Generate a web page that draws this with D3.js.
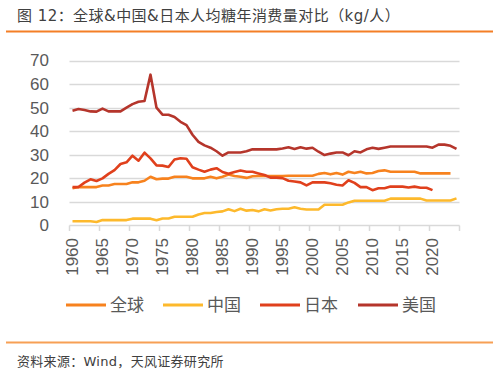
<!DOCTYPE html>
<html>
<head>
<meta charset="utf-8">
<script src="https://cdn.jsdelivr.net/npm/d3@7"></script>
<style>
  body { margin: 0; background: #fff; }
  svg { display: block; font-family: "Liberation Sans", Arial, "Noto Sans CJK SC", sans-serif; }
  .cjk { font-family: "DejaVu Sans", "Noto Sans CJK SC", sans-serif; }
  .legend-text { font-family: "Noto Sans CJK SC", sans-serif; }
</style>
</head>
<body>
<svg id="chart" width="499" height="372"></svg>
<script>
const years = d3.range(1960, 2025);
const yTicks = [0, 10, 20, 30, 40, 50, 60, 70];

// kg per person
const global = [15.8,16.3,16.3,16.3,16.3,17,17,17.6,17.6,17.6,
  18.3,18.3,19,20.7,19.6,19.9,19.9,20.7,20.7,20.7,
  20,20,20,20.7,20,20.7,21.6,21,20.7,20.2,
  20.9,21,21,21,21,21,21.1,21.1,21.1,21.1,
  21.1,21.9,22.3,21.7,22.3,21.6,22.8,22.3,22.8,22.1,
  22.3,23.1,23.4,22.8,22.8,22.8,22.8,22.8,22.1,22.1,
  22.1,22.1,22.1,22.1];
const china = [1.8,1.8,1.8,1.8,1.5,2.3,2.3,2.3,2.3,2.3,
  2.9,2.9,2.9,2.9,2.2,3,3,3.7,3.7,3.7,
  3.7,4.7,5.3,5.3,5.7,6,6.9,6.1,7.1,6.3,
  6.6,6,6.9,6.4,6.9,7.1,7.1,7.7,7.1,6.8,
  6.8,6.8,8.8,8.8,8.8,8.8,9.8,10.5,10.5,10.5,
  10.5,10.5,10.5,11.4,11.4,11.4,11.4,11.4,11.4,10.6,
  10.6,10.6,10.6,10.6,11.5];
const japan = [16.3,16.3,18.2,19.6,18.9,20,21.9,23.5,26.1,26.8,
  29.6,27.5,30.9,28.5,25.5,25.4,24.8,28,28.5,28.3,
  24.7,23.7,22.8,23.7,24.3,22.7,22,22.7,23.3,22.8,
  22.8,22.1,21.4,20.3,20.3,20.1,19,18.7,18.3,17,
  18.3,18.3,18.3,17.9,17.3,17,19.2,18.1,16.3,16.3,
  15,15.8,15.8,16.5,16.5,16.5,16.1,16.5,16,16,
  15];
const usa = [48.7,49.4,49,48.4,48.3,49.6,48.4,48.4,48.4,50,
  51.5,52.5,52.8,64,50,47,47,46,44,42.6,
  38.5,35.5,34,33,31.5,29.6,31,31,31,31.5,
  32.3,32.3,32.3,32.3,32.3,32.7,33.2,32.5,33.2,32.6,
  33,31.3,29.9,30.5,31,31,29.8,31.5,31,32.3,
  33,32.5,33,33.5,33.5,33.5,33.5,33.5,33.5,33.5,
  33,34.3,34.3,33.8,32.5];

const seriesNames = ['全球', '中国', '日本', '美国'];
const seriesColors = ['#f7821e', '#fdb92c', '#e0401c', '#b5352b'];
const seriesValues = [global, china, japan, usa];

const svg = d3.select('#chart');

// title + rules
svg.append('text')
  .attr('class', 'cjk')
  .attr('x', 17).attr('y', 21)
  .attr('font-size', 15)
  .attr('letter-spacing', 0.45)
  .attr('fill', '#404040')
  .text('图 12：全球&中国&日本人均糖年消费量对比（kg/人）');
svg.append('line')
  .attr('x1', 6).attr('x2', 493).attr('y1', 31.5).attr('y2', 31.5)
  .attr('stroke', '#f47f26').attr('stroke-width', 2);
svg.append('line')
  .attr('x1', 6).attr('x2', 493).attr('y1', 342.5).attr('y2', 342.5)
  .attr('stroke', '#f7a055').attr('stroke-width', 2);
svg.append('text')
  .attr('class', 'cjk')
  .attr('x', 17).attr('y', 366)
  .attr('font-size', 13)
  .attr('letter-spacing', 0.3)
  .attr('fill', '#404040')
  .text('资料来源：Wind，天风证券研究所');

const x = d3.scaleBand()
  .domain(years)
  .range([69.5, 459.5])
  .padding(0);
const y = d3.scaleLinear()
  .domain([0, 70])
  .range([225.5, 60.5]);

const cx = yr => x(yr) + x.bandwidth() / 2;

// grid
svg.append('g').selectAll('line').data(yTicks.slice(1))
  .enter().append('line')
    .attr('x1', 69.5).attr('x2', 459.5)
    .attr('y1', d => Math.round(y(d)) + 0.5)
    .attr('y2', d => Math.round(y(d)) + 0.5)
    .attr('stroke', '#d9d9d9').attr('stroke-width', 1.5);

// y labels
svg.append('g').selectAll('text').data(yTicks)
  .enter().append('text')
    .attr('x', 49)
    .attr('y', d => y(d))
    .attr('dy', '0.35em')
    .attr('text-anchor', 'end')
    .attr('font-size', 17)
    .attr('fill', '#595959')
    .text(d => d);

// x axis baseline and boundary ticks
svg.append('line')
  .attr('x1', 69.5).attr('x2', 459.5)
  .attr('y1', 225.5).attr('y2', 225.5)
  .attr('stroke', '#d9d9d9').attr('stroke-width', 1.5);
const tickYears = years.filter(d => d % 5 == 0).concat([2025]);
svg.append('g').selectAll('line').data(tickYears)
  .enter().append('line')
    .attr('x1', d => d == 2025 ? 459.5 : x(d))
    .attr('x2', d => d == 2025 ? 459.5 : x(d))
    .attr('y1', 225.5).attr('y2', 231)
    .attr('stroke', '#d9d9d9').attr('stroke-width', 1.5);

svg.append('g').selectAll('text').data(years.filter(d => d % 5 == 0))
  .enter().append('text')
    .attr('transform', d => `translate(${cx(d)},238) rotate(-90)`)
    .attr('dy', '0.35em')
    .attr('text-anchor', 'end')
    .attr('font-size', 17)
    .attr('fill', '#595959')
    .text(d => d);

// lines
const line = d3.line()
  .x((d, i) => cx(years[i]))
  .y(d => y(d));

svg.append('g').selectAll('path').data(seriesValues)
  .enter().append('path')
    .attr('d', line)
    .attr('fill', 'none')
    .attr('stroke', (d, i) => seriesColors[i])
    .attr('stroke-width', 2.6)
    .attr('stroke-linejoin', 'round');

// legend
const legendX = [66, 163, 260, 358];
const legend = svg.append('g').selectAll('g').data(seriesNames)
  .enter().append('g')
    .attr('transform', (d, i) => `translate(${legendX[i]},305)`);
legend.append('line')
  .attr('x1', 0).attr('x2', 40)
  .attr('stroke', (d, i) => seriesColors[i])
  .attr('stroke-width', 3);
legend.append('text')
  .attr('class', 'legend-text')
  .attr('x', 44).attr('dy', '0.35em')
  .attr('font-size', 17)
  .attr('fill', '#595959')
  .text(d => d);
</script>
</body>
</html>
